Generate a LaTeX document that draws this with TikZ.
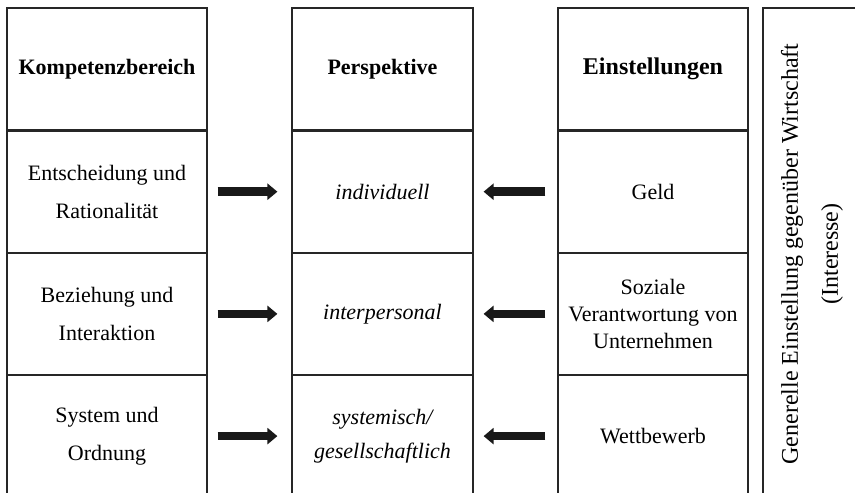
\documentclass[tikz,border=0pt]{standalone}
\usepackage{fontspec}
\setmainfont{Liberation Serif}
\usetikzlibrary{positioning,arrows.meta}

\begin{document}
\begin{tikzpicture}[x=1pt, y=1pt,
        cell/.style={draw=black!85, line width=1.2pt, inner sep=0pt, minimum height=121pt, align=center, font=\fontsize{22}{38}\selectfont},
        head/.style={cell, minimum height=122pt, font=\fontsize{22}{26}\selectfont\bfseries},
        persp/.style={cell, font=\fontsize{22}{34}\selectfont\itshape},
        thickarrow/.style={line width=8.6pt, draw=black!90, -{Triangle[width=16pt,length=10pt]}}]
    \useasboundingbox (0,0) rectangle (855,-493);
    \clip (0,0) rectangle (855,-493);
    % left column
    \node (kompetenz) [head, minimum width=200pt] at (107,-69) {Kompetenzbereich};
    \node (entscheidung) [cell, minimum width=200pt, below=0pt of kompetenz] {Entscheidung und\\Rationalität};
    \node (beziehung) [cell, minimum width=200pt, below=0pt of entscheidung] {Beziehung und\\Interaktion};
    \node (system) [cell, minimum width=200pt, below=0pt of beziehung] {System und\\Ordnung};
    % middle column
    \node (perspektive) [head, minimum width=181pt] at (382.5,-69) {Perspektive};
    \node (individuell) [persp, minimum width=181pt, below=0pt of perspektive] {individuell};
    \node (interpersonal) [persp, minimum width=181pt, below=0pt of individuell] {interpersonal};
    \node (systemisch) [persp, minimum width=181pt, below=0pt of interpersonal] {systemisch/\\gesellschaftlich};
    % right column
    \node (einstellungen) [head, minimum width=190pt, font=\fontsize{24}{28}\selectfont\bfseries] at (653,-69) {Einstellungen};
    \node (geld) [cell, minimum width=190pt, below=0pt of einstellungen] {Geld};
    \node (sozial) [cell, minimum width=190pt, font=\fontsize{22}{27}\selectfont, below=0pt of geld] {Soziale\\Verantwortung von\\Unternehmen};
    \node (wettbewerb) [cell, minimum width=190pt, below=0pt of sozial] {Wettbewerb};
    % general attitude
    \node (generell) [draw=black!85, line width=1.2pt, rotate=90, minimum width=492pt, minimum height=98pt, inner sep=0pt, align=center, font=\fontsize{24}{40}\selectfont] at (812,-254) {Generelle Einstellung gegenüber Wirtschaft\\(Interesse)};
    % arrows
    \draw[thickarrow] ([xshift=10pt]entscheidung.east) -- ([xshift=-14pt]individuell.west);
    \draw[thickarrow] ([xshift=10pt]beziehung.east) -- ([xshift=-14pt]interpersonal.west);
    \draw[thickarrow] ([xshift=10pt]system.east) -- ([xshift=-14pt]systemisch.west);
    \draw[thickarrow] ([xshift=-12pt]geld.west) -- ([xshift=10pt]individuell.east);
    \draw[thickarrow] ([xshift=-12pt]sozial.west) -- ([xshift=10pt]interpersonal.east);
    \draw[thickarrow] ([xshift=-12pt]wettbewerb.west) -- ([xshift=10pt]systemisch.east);
\end{tikzpicture}
\end{document}
